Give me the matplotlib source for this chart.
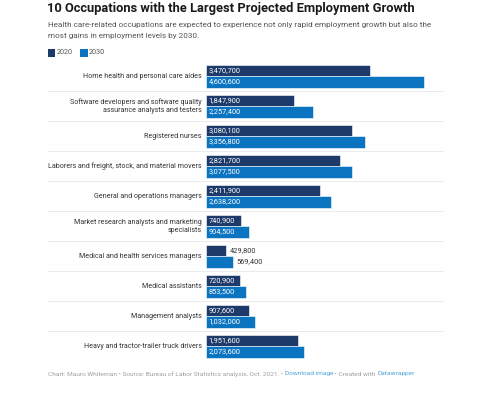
import matplotlib
matplotlib.use("Agg")
import matplotlib.pyplot as plt
from matplotlib.transforms import blended_transform_factory
from matplotlib.patches import Rectangle

categories = [
    "Home health and personal care aides",
    "Software developers and software quality\nassurance analysts and testers",
    "Registered nurses",
    "Laborers and freight, stock, and material movers",
    "General and operations managers",
    "Market research analysts and marketing\nspecialists",
    "Medical and health services managers",
    "Medical assistants",
    "Management analysts",
    "Heavy and tractor-trailer truck drivers",
]
v2020 = [3470700, 1847900, 3080100, 2821700, 2411900, 740900, 429800, 720900, 907600, 1951600]
v2030 = [4600600, 2257400, 3356800, 3077500, 2638200, 904500, 569400, 853500, 1032000, 2073600]
series_names = ["2020", "2030"]

C_DARK = "#1d3a6a"
C_LIGHT = "#0a74c0"
FONT = "Roboto"

W, H = 481, 394
fig = plt.figure(figsize=(W / 100, H / 100), dpi=100)
fig.patch.set_facecolor("white")

def fx(px):
    return px / W

def fy(py):
    return 1 - py / H

ax_left, ax_right = 206, 443
ax_top, ax_bot = 61.25, 361.25
ax = fig.add_axes([fx(ax_left), fy(ax_bot), fx(ax_right - ax_left), (ax_bot - ax_top) / H])
ax.set_xlim(0, 5.0016e6)
ax.set_ylim(len(categories) - 0.5, -0.5)
ax.axis("off")

bh = 0.383
off = 0.192
for i, (a, b) in enumerate(zip(v2020, v2030)):
    for val, yy, col in ((a, i - off, C_DARK), (b, i + off, C_LIGHT)):
        ax.barh(yy, val, height=bh, color=col, edgecolor="white", linewidth=0.4)
        label = f"{val:,}"
        if val > 650000:
            ax.text(0.05e6, yy, label, color="white", fontsize=5.3,
                    family=FONT, va="center", ha="left")
        else:
            ax.text(val + 0.065e6, yy, label, color="#333333", fontsize=5.3,
                    family=FONT, va="center", ha="left")
    ax.text(-0.09e6, i, categories[i], ha="right", va="center", fontsize=5.1,
            family=FONT, color="#333333", linespacing=1.3)

# separators
tr = blended_transform_factory(fig.transFigure, ax.transData)
for i in range(len(categories) - 1):
    ax.plot([fx(48), fx(443)], [i + 0.5, i + 0.5], transform=tr, color="#e8e8e8",
            linewidth=0.6, clip_on=False)

# Title, subtitle
fig.text(fx(47), fy(8.5), "10 Occupations with the Largest Projected Employment Growth",
         fontsize=9.3, fontweight="bold", family=FONT, color="#1a1a1a", va="center", ha="left")
fig.text(fx(48), fy(25.5),
         "Health care-related occupations are expected to experience not only rapid employment growth but also the",
         fontsize=5.9, family=FONT, color="#555555", va="center", ha="left")
fig.text(fx(48), fy(36),
         "most gains in employment levels by 2030.",
         fontsize=5.9, family=FONT, color="#555555", va="center", ha="left")

# Legend
for x0, col, name in ((47.5, C_DARK, series_names[0]), (80, C_LIGHT, series_names[1])):
    fig.patches.append(Rectangle((fx(x0), fy(56.5)), fx(7.5), 7.5 / H, transform=fig.transFigure,
                                 facecolor=col, edgecolor="none"))
    fig.text(fx(x0 + 9), fy(52.7), name, fontsize=5.2, family=FONT, color="#555555",
             va="center", ha="left")

# Footer
parts = [
    ("Chart: Mauro Whiteman • Source: Bureau of Labor Statistics analysis, Oct. 2021. • ", "#a0a0a0"),
    ("Download image", "#4aa3dc"),
    (" • Created with ", "#a0a0a0"),
    ("Datawrapper", "#4aa3dc"),
]
fig.canvas.draw()
renderer = fig.canvas.get_renderer()
x = fx(48)
for txt, col in parts:
    t = fig.text(x, fy(374), txt, fontsize=4.65, family=FONT, color=col, va="center", ha="left")
    bb = t.get_window_extent(renderer=renderer)
    x += bb.width / W

fig.savefig("out.png", dpi=100, facecolor="white")
